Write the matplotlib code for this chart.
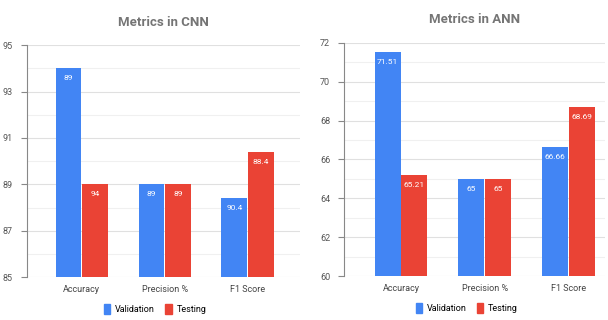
import numpy as np
import matplotlib.pyplot as plt
from matplotlib.patches import Patch

plt.rcParams['font.family'] = ['Roboto', 'DejaVu Sans']

# Data
categories = ['Accuracy', 'Precision %', 'F1 Score']

cnn_val = [94, 89, 88.4]
cnn_test = [89, 89, 90.4]
cnn_val_labels = ['89', '89', '90.4']
cnn_test_labels = ['94', '89', '88.4']

ann_val = [71.51, 65, 66.66]
ann_test = [65.21, 65, 68.69]
ann_val_labels = ['71.51', '65', '66.66']
ann_test_labels = ['65.21', '65', '68.69']

BLUE = '#4285F4'
RED = '#EA4335'
GREY = '#757575'

fig = plt.figure(figsize=(6.08, 3.2), dpi=100)
ax1 = fig.add_axes([0.044, 0.134, 0.449, 0.725])
ax2 = fig.add_axes([0.566, 0.1375, 0.429, 0.7285])


def draw(ax, val, test, val_lab, test_lab, title, ylim, step, xlim):
    x = np.arange(len(categories))
    w = 0.31
    b1 = ax.bar(x - 0.16, val, w, color=BLUE, zorder=3)
    b2 = ax.bar(x + 0.16, test, w, color=RED, zorder=3)
    for bars, labs in ((b1, val_lab), (b2, test_lab)):
        for b, lab in zip(bars, labs):
            ax.annotate(lab, (b.get_x() + b.get_width() / 2, b.get_height()),
                        xytext=(0, -5), textcoords='offset points',
                        ha='center', va='top', color='white', fontsize=6, zorder=4)
    ax.set_ylim(*ylim)
    ax.set_xlim(*xlim)
    ax.set_yticks(np.arange(ylim[0], ylim[1] + 0.1, step))
    ax.set_yticks(np.arange(ylim[0] + step / 2, ylim[1], step), minor=True)
    ax.set_xticks(x)
    ax.set_xticklabels(categories)
    ax.grid(axis='y', which='major', color='#e0e0e0', lw=0.8, zorder=0)
    ax.grid(axis='y', which='minor', color='#f0f0f0', lw=0.8, zorder=0)
    for s in ('top', 'right', 'bottom'):
        ax.spines[s].set_visible(False)
    ax.spines['left'].set_color('#888888')
    ax.tick_params(axis='y', which='major', length=4, color='#888888', labelsize=6.5, labelcolor='#555555', pad=6)
    ax.tick_params(axis='y', which='minor', length=0)
    ax.tick_params(axis='x', length=0, labelsize=6.5, labelcolor='#444444', pad=6)
    ax.set_title(title, color=GREY, fontsize=9.5, fontweight='bold', pad=14)
    ax.legend(handles=[Patch(color=BLUE, label='Validation'), Patch(color=RED, label='Testing')],
              loc='upper center', bbox_to_anchor=(0.47, -0.08), ncol=2, frameon=False,
              fontsize=6.5, handlelength=0.7, handleheight=1.4, columnspacing=1.2, handletextpad=0.5)


draw(ax1, cnn_val, cnn_test, cnn_val_labels, cnn_test_labels, 'Metrics in CNN', (85, 95), 2, (-0.663, 2.63))
draw(ax2, ann_val, ann_test, ann_val_labels, ann_test_labels, 'Metrics in ANN', (60, 72), 2, (-0.68, 2.44))

fig.savefig('out.png', dpi=100)
